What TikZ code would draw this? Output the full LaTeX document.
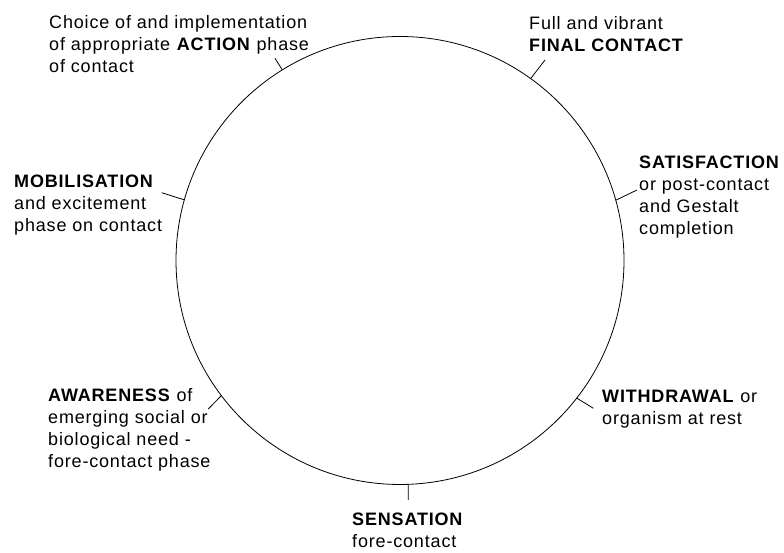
\documentclass[tikz,border=0pt]{standalone}
\usepackage{fontspec}
\setmainfont{Liberation Sans}[LetterSpace=4.6]
\usetikzlibrary{calc, positioning}

\tikzset{
  phase/.style={font=\fontsize{18}{22}\selectfont, align=left, inner sep=0pt, anchor=north west},
  phasetick/.style={line width=0.8pt}
}

\begin{document}
\begin{tikzpicture}[x=1pt, y=1pt]
        \useasboundingbox (0,0) rectangle (784,553);

        % Draw the cycle
        \coordinate (ctr) at (400,292.5);
        \draw[line width=0.8pt] (ctr) circle (224pt);

        % Points on the cycle and the free ends of the ticks
        \coordinate (actionP) at ($(ctr)+(121.7:224)$);
        \coordinate (actionQ) at (275,494.7);
        \coordinate (finalP) at ($(ctr)+(54.3:224)$);
        \coordinate (finalQ) at (545,493);
        \coordinate (satisP) at ($(ctr)+(15.6:224)$);
        \coordinate (satisQ) at (637,363);
        \coordinate (mobilP) at ($(ctr)+(164.3:224)$);
        \coordinate (mobilQ) at (161.7,360.3);
        \coordinate (awareP) at ($(ctr)+(217.1:224)$);
        \coordinate (awareQ) at (208.3,144);
        \coordinate (withdP) at ($(ctr)+(-37.9:224)$);
        \coordinate (withdQ) at (593.3,144.7);
        \coordinate (sensP) at ($(ctr)+(-87.9:224)$);
        \coordinate (sensQ) at (408.3,53);

        % Add labels for each phase
        \node[phase] (action) at (49,538) {Choice of and implementation\\of appropriate \textbf{ACTION} phase\\of contact};
        \node[phase] (final) at (529,537) {Full and vibrant\\\textbf{FINAL CONTACT}};
        \node[phase] (satis) at (639,397) {\textbf{SATISFACTION}\\or post-contact\\and Gestalt\\completion};
        \node[phase] (mobil) at (14,378) {\textbf{MOBILISATION}\\and excitement\\phase on contact};
        \node[phase] (aware) at (48,165) {\textbf{AWARENESS} of\\emerging social or\\biological need -\\fore-contact phase};
        \node[phase] (withd) at (602,163) {\textbf{WITHDRAWAL} or\\organism at rest};
        \node[phase] (sens) at (352,40) {\textbf{SENSATION}\\fore-contact};

        % Ticks from the cycle out to the labels
        \draw[phasetick] (actionP) -- (actionQ);
        \draw[phasetick] (finalP) -- (finalQ);
        \draw[phasetick] (satisP) -- (satisQ);
        \draw[phasetick] (mobilP) -- (mobilQ);
        \draw[phasetick] (awareP) -- (awareQ);
        \draw[phasetick] (withdP) -- (withdQ);
        \draw[phasetick] (sensP) -- (sensQ);
    \end{tikzpicture}
\end{document}
